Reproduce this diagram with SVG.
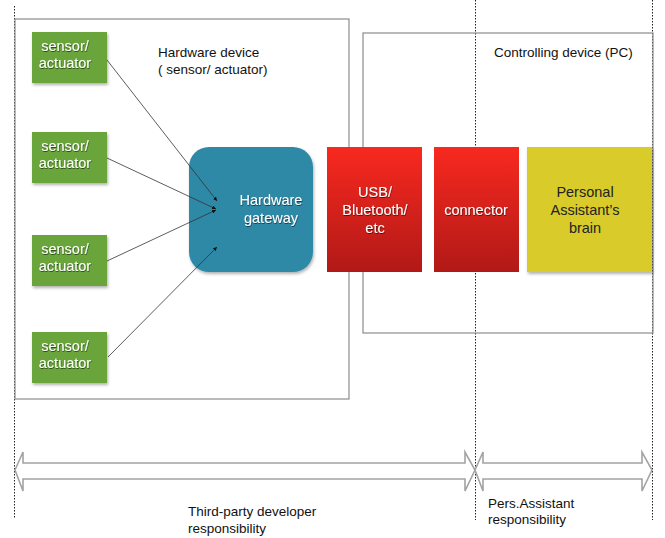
<svg xmlns="http://www.w3.org/2000/svg" width="665" height="538" viewBox="0 0 665 538">
<style>
text{font-family:"Liberation Sans",Arial,sans-serif}
.lbl{font-size:13.5px;fill:#111}
.wt{font-size:14.5px;fill:#fff;text-anchor:middle}
.dk{font-size:14.5px;fill:#222;text-anchor:middle}
.frame{fill:none;stroke:#8c8c8c;stroke-width:1.2}
.dot{stroke:#222;stroke-width:1;stroke-dasharray:1.5 1.5;fill:none}
.sensor{fill:#69a53b}
.conn line{stroke:#333;stroke-width:0.8}
.dbl{fill:#fff;stroke:#a3a3a3;stroke-width:1.6}
</style>
<defs>
<filter id="ts" x="-20%" y="-20%" width="140%" height="140%">
<feDropShadow dx="0.5" dy="1" stdDeviation="0.6" flood-color="#000" flood-opacity="0.55"/>
</filter>
<filter id="bs" x="-10%" y="-10%" width="125%" height="125%">
<feDropShadow dx="1" dy="2" stdDeviation="1.5" flood-color="#000" flood-opacity="0.3"/>
</filter>
<linearGradient id="red" x1="0" y1="0" x2="0" y2="1">
<stop offset="0" stop-color="#f8291f"/>
<stop offset="1" stop-color="#b11917"/>
</linearGradient>
<marker id="ah" viewBox="0 0 6 6" refX="6" refY="3" markerWidth="4" markerHeight="4" orient="auto" markerUnits="userSpaceOnUse">
<path d="M0,0 L6,3 L0,6 z" fill="#111"/>
</marker>
</defs>
<rect width="665" height="538" fill="#fff"/>

<g id="dotted-lines">
<line class="dot" x1="14.5" y1="6" x2="14.5" y2="518"/>
<line class="dot" x1="475.5" y1="0" x2="475.5" y2="520"/>
<line class="dot" x1="652.5" y1="0" x2="652.5" y2="520"/>
</g>

<g id="hardware-device">
<rect class="frame" x="15" y="19" width="334" height="380"/>
<text class="lbl" x="158" y="57">Hardware device</text>
<text class="lbl" x="158" y="74">( sensor/ actuator)</text>
</g>

<g id="controlling-device">
<rect class="frame" x="363" y="33" width="290" height="300"/>
<text class="lbl" x="494" y="57">Controlling device (PC)</text>
</g>

<g id="sensor1">
<rect class="sensor" x="32" y="32" width="75" height="51" filter="url(#bs)"/>
<text class="wt" x="65" y="51" filter="url(#ts)">sensor/</text>
<text class="wt" x="65" y="68" filter="url(#ts)">actuator</text>
</g>
<g id="sensor2">
<rect class="sensor" x="32" y="132" width="75" height="51" filter="url(#bs)"/>
<text class="wt" x="65" y="151" filter="url(#ts)">sensor/</text>
<text class="wt" x="65" y="168" filter="url(#ts)">actuator</text>
</g>
<g id="sensor3">
<rect class="sensor" x="32" y="235" width="75" height="51" filter="url(#bs)"/>
<text class="wt" x="65" y="254" filter="url(#ts)">sensor/</text>
<text class="wt" x="65" y="271" filter="url(#ts)">actuator</text>
</g>
<g id="sensor4">
<rect class="sensor" x="32" y="332" width="75" height="51" filter="url(#bs)"/>
<text class="wt" x="65" y="351" filter="url(#ts)">sensor/</text>
<text class="wt" x="65" y="368" filter="url(#ts)">actuator</text>
</g>

<g id="hardware-gateway">
<rect x="189" y="147" width="124" height="125" rx="20" fill="#2f89a7" filter="url(#bs)"/>
<text class="wt" x="271" y="205" filter="url(#ts)">Hardware</text>
<text class="wt" x="271" y="223" filter="url(#ts)">gateway</text>
</g>

<g id="usb">
<rect x="327" y="147" width="95" height="125" fill="url(#red)"/>
<text class="wt" x="375" y="197" filter="url(#ts)">USB/</text>
<text class="wt" x="375" y="215" filter="url(#ts)">Bluetooth/</text>
<text class="wt" x="375" y="233" filter="url(#ts)">etc</text>
</g>

<g id="connector">
<rect x="434" y="147" width="85" height="125" fill="url(#red)"/>
<text class="wt" x="476" y="215" filter="url(#ts)">connector</text>
</g>

<g id="brain">
<rect x="527" y="147" width="125" height="125" fill="#d8cb2b" filter="url(#bs)"/>
<text class="dk" x="585" y="197">Personal</text>
<text class="dk" x="585" y="215">Assistant’s</text>
<text class="dk" x="585" y="233">brain</text>
</g>

<g id="connectors" class="conn">
<line x1="107" y1="60" x2="217" y2="201" marker-end="url(#ah)"/>
<line x1="107" y1="158" x2="216" y2="209" marker-end="url(#ah)"/>
<line x1="107" y1="261" x2="216" y2="210" marker-end="url(#ah)"/>
<line x1="108" y1="357" x2="217" y2="247" marker-end="url(#ah)"/>
</g>

<g id="third-party-arrow">
<path class="dbl" d="M15,470 L23,452 L23,463 L465,463 L465,452 L475,470 L465,491 L465,479 L23,479 L23,491 Z"/>
<text class="lbl" x="188" y="516">Third-party developer</text>
<text class="lbl" x="188" y="533">responsibility</text>
</g>

<g id="pa-arrow">
<path class="dbl" d="M475,470 L483,452 L483,463 L642,463 L642,452 L652,470 L642,491 L642,479 L483,479 L483,491 Z"/>
<text class="lbl" x="488" y="508">Pers.Assistant</text>
<text class="lbl" x="488" y="524">responsibility</text>
</g>
</svg>
